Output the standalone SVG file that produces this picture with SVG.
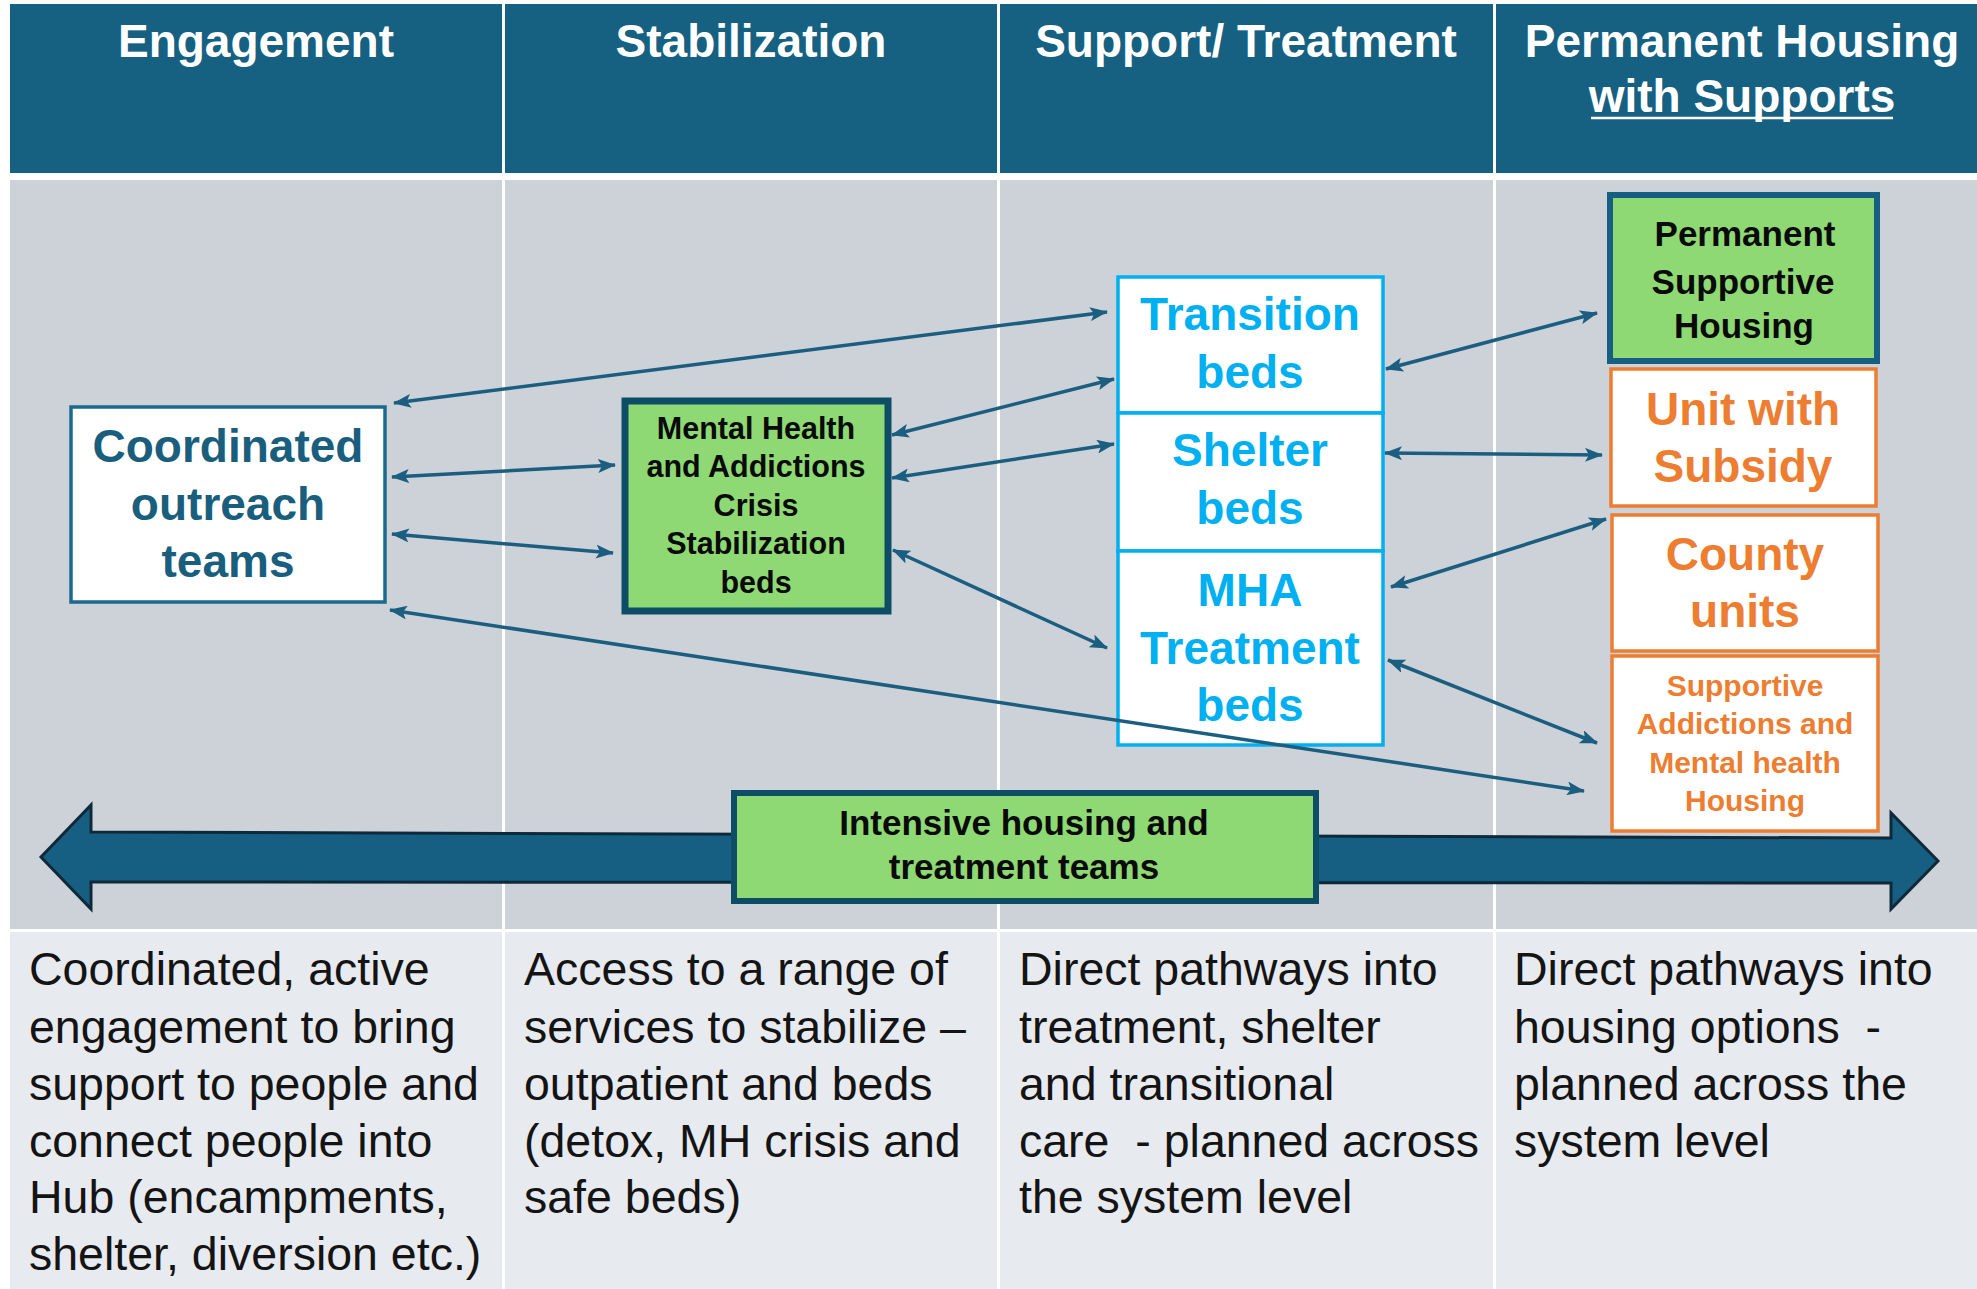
<svg xmlns="http://www.w3.org/2000/svg" width="1977" height="1289" viewBox="0 0 1977 1289">
<style>
.hdr{fill:#166082}
.body{fill:#CDD2D9}
.low{fill:#E7EAEE}
.ht{font-family:"Liberation Sans",Arial,sans-serif;font-weight:bold;font-size:46px;fill:#ffffff;text-anchor:middle}
.bt{font-family:"Liberation Sans",Arial,sans-serif;font-size:46.5px;fill:#141414;white-space:pre}
.nt{font-family:"Liberation Sans",Arial,sans-serif;font-weight:bold;text-anchor:middle}
.teal{fill:#1A5E7E}
.blue{fill:#00B0F0}
.orange{fill:#ED7D31}
.blk{fill:#0A0A0A}
.conn{stroke:#1B5E80;stroke-width:3.5;fill:none;marker-start:url(#ah);marker-end:url(#ah)}
</style>
<defs>
<marker id="ah" viewBox="0 0 18 14" refX="17" refY="7" markerWidth="18" markerHeight="14" markerUnits="userSpaceOnUse" orient="auto-start-reverse">
<path d="M0,0 L18,7 L0,14 L4,7 z" fill="#1B5E80"/>
</marker>
</defs>
<rect x="0" y="0" width="1977" height="1289" fill="#ffffff"/>
<g id="table">
<rect class="hdr" x="10" y="4" width="492" height="169"/>
<rect class="hdr" x="505" y="4" width="492" height="169"/>
<rect class="hdr" x="1000" y="4" width="493" height="169"/>
<rect class="hdr" x="1496" y="4" width="481" height="169"/>
<rect class="body" x="10" y="180" width="492" height="749"/>
<rect class="body" x="505" y="180" width="492" height="749"/>
<rect class="body" x="1000" y="180" width="493" height="749"/>
<rect class="body" x="1496" y="180" width="481" height="749"/>
<rect class="low" x="10" y="932" width="492" height="357"/>
<rect class="low" x="505" y="932" width="492" height="357"/>
<rect class="low" x="1000" y="932" width="493" height="357"/>
<rect class="low" x="1496" y="932" width="481" height="357"/>
<text class="ht" x="256" y="57">Engagement</text>
<text class="ht" x="751" y="57">Stabilization</text>
<text class="ht" x="1246" y="57">Support/ Treatment</text>
<text class="ht" x="1742" y="57">Permanent Housing</text>
<text class="ht" x="1742" y="112">with Supports</text>
<line x1="1591" y1="118" x2="1893" y2="118" stroke="#ffffff" stroke-width="2.5"/>
<text class="bt" x="29" y="985">Coordinated, active</text>
<text class="bt" x="29" y="1043">engagement to bring</text>
<text class="bt" x="29" y="1100">support to people and</text>
<text class="bt" x="29" y="1157">connect people into</text>
<text class="bt" x="29" y="1213">Hub (encampments,</text>
<text class="bt" x="29" y="1270">shelter, diversion etc.)</text>
<text class="bt" x="524" y="985">Access to a range of</text>
<text class="bt" x="524" y="1043">services to stabilize –</text>
<text class="bt" x="524" y="1100">outpatient and beds</text>
<text class="bt" x="524" y="1157">(detox, MH crisis and</text>
<text class="bt" x="524" y="1213">safe beds)</text>
<text class="bt" x="1019" y="985">Direct pathways into</text>
<text class="bt" x="1019" y="1043">treatment, shelter</text>
<text class="bt" x="1019" y="1100">and transitional</text>
<text class="bt" x="1019" y="1157">care  - planned across</text>
<text class="bt" x="1019" y="1213">the system level</text>
<text class="bt" x="1514" y="985">Direct pathways into</text>
<text class="bt" x="1514" y="1043">housing options  -</text>
<text class="bt" x="1514" y="1100">planned across the</text>
<text class="bt" x="1514" y="1157">system level</text>
</g>
<g id="big-arrow">
<polygon points="41,857 91,805 91,832 1891,838 1891,813 1938,861 1891,909 1891,883 91,882 91,909" fill="#175F82" stroke="#0E2A3A" stroke-width="3" stroke-linejoin="miter"/>
</g>
<g id="node-outreach">
<rect x="71" y="407" width="314" height="195" fill="#ffffff" stroke="#1B6A8C" stroke-width="3.5"/>
<text class="nt teal" font-size="46" x="228" y="462">Coordinated</text>
<text class="nt teal" font-size="46" x="228" y="520">outreach</text>
<text class="nt teal" font-size="46" x="228" y="577">teams</text>
</g>
<g id="node-mh-crisis">
<rect x="625" y="401" width="263" height="210" fill="#8ED973" stroke="#0D4E66" stroke-width="7"/>
<text class="nt blk" font-size="30.5" x="756" y="439">Mental Health</text>
<text class="nt blk" font-size="30.5" x="756" y="477">and Addictions</text>
<text class="nt blk" font-size="30.5" x="756" y="516">Crisis</text>
<text class="nt blk" font-size="30.5" x="756" y="554">Stabilization</text>
<text class="nt blk" font-size="30.5" x="756" y="593">beds</text>
</g>
<g id="node-transition">
<rect x="1118" y="277" width="265" height="136" fill="#ffffff" stroke="#00B0F0" stroke-width="3.5"/>
<text class="nt blue" font-size="46" x="1250" y="330">Transition</text>
<text class="nt blue" font-size="46" x="1250" y="388">beds</text>
</g>
<g id="node-shelter">
<rect x="1118" y="413" width="265" height="138" fill="#ffffff" stroke="#00B0F0" stroke-width="3.5"/>
<text class="nt blue" font-size="46" x="1250" y="466">Shelter</text>
<text class="nt blue" font-size="46" x="1250" y="524">beds</text>
</g>
<g id="node-mha">
<rect x="1118" y="551" width="265" height="194" fill="#ffffff" stroke="#00B0F0" stroke-width="3.5"/>
<text class="nt blue" font-size="46" x="1250" y="606">MHA</text>
<text class="nt blue" font-size="46" x="1250" y="664">Treatment</text>
<text class="nt blue" font-size="46" x="1250" y="721">beds</text>
</g>
<g id="node-psh">
<rect x="1610" y="195" width="267" height="166" fill="#8ED973" stroke="#175F82" stroke-width="6"/>
<text class="nt blk" font-size="35" x="1745" y="246">Permanent</text>
<text class="nt blk" font-size="35" x="1743" y="294">Supportive</text>
<text class="nt blk" font-size="35" x="1744" y="338">Housing</text>
</g>
<g id="node-unit-subsidy">
<rect x="1611" y="369" width="265" height="137" fill="#ffffff" stroke="#ED7D31" stroke-width="3.5"/>
<text class="nt orange" font-size="46" x="1743" y="425">Unit with</text>
<text class="nt orange" font-size="46" x="1743" y="482">Subsidy</text>
</g>
<g id="node-county">
<rect x="1612" y="515" width="266" height="136" fill="#ffffff" stroke="#ED7D31" stroke-width="3.5"/>
<text class="nt orange" font-size="46" x="1745" y="570">County</text>
<text class="nt orange" font-size="46" x="1745" y="627">units</text>
</g>
<g id="node-supportive-amh">
<rect x="1612" y="656" width="266" height="175" fill="#ffffff" stroke="#ED7D31" stroke-width="3.5"/>
<text class="nt orange" font-size="30" x="1745" y="696">Supportive</text>
<text class="nt orange" font-size="30" x="1745" y="734">Addictions and</text>
<text class="nt orange" font-size="30" x="1745" y="773">Mental health</text>
<text class="nt orange" font-size="30" x="1745" y="811">Housing</text>
</g>
<g id="node-intensive">
<rect x="734" y="793" width="582" height="108" fill="#8ED973" stroke="#0D4E66" stroke-width="6"/>
<text class="nt blk" font-size="35" x="1024" y="835">Intensive housing and</text>
<text class="nt blk" font-size="35" x="1024" y="879">treatment teams</text>
</g>
<g id="connectors">
<line class="conn" x1="394" y1="403" x2="1107" y2="312"/>
<line class="conn" x1="392" y1="477" x2="615" y2="465"/>
<line class="conn" x1="392" y1="534" x2="613" y2="553"/>
<line class="conn" x1="390" y1="610" x2="1584" y2="791"/>
<line class="conn" x1="892" y1="435" x2="1114" y2="379"/>
<line class="conn" x1="892" y1="478" x2="1114" y2="444"/>
<line class="conn" x1="893" y1="550" x2="1107" y2="648"/>
<line class="conn" x1="1386" y1="369" x2="1597" y2="313"/>
<line class="conn" x1="1385" y1="453" x2="1602" y2="455"/>
<line class="conn" x1="1391" y1="587" x2="1606" y2="519"/>
<line class="conn" x1="1388" y1="660" x2="1597" y2="743"/>
</g>
</svg>
